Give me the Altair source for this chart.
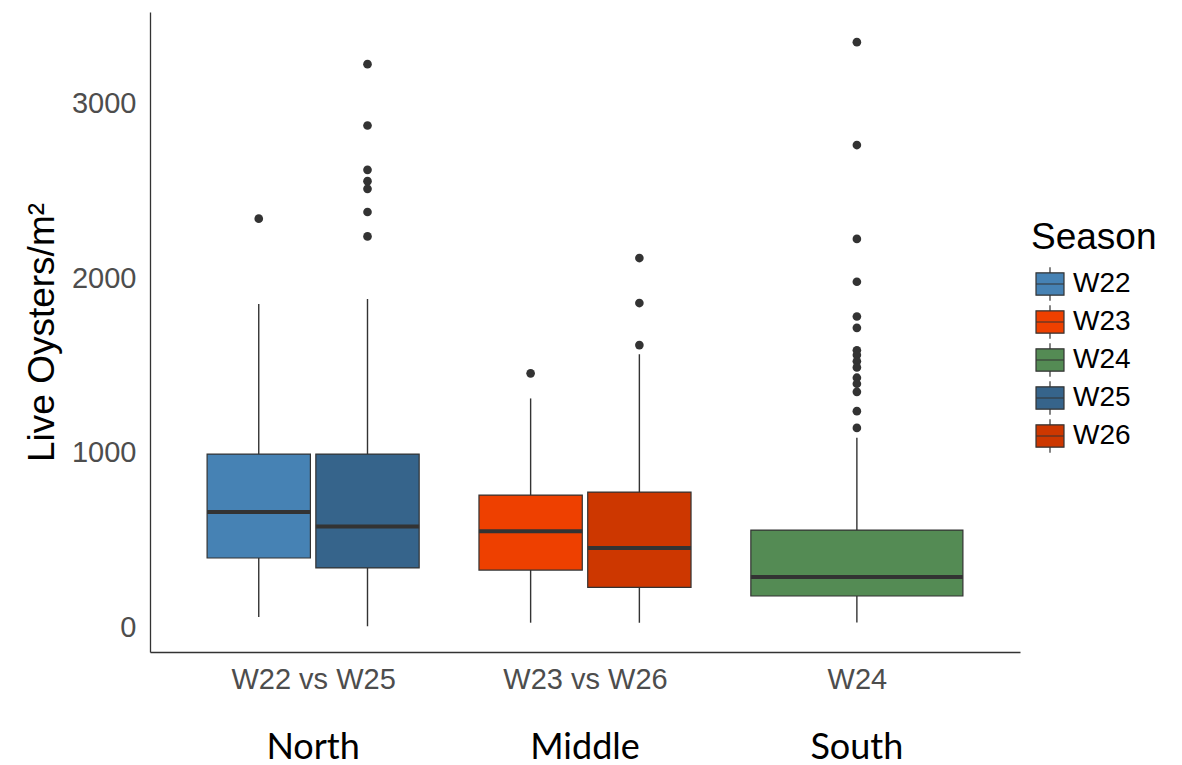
import altair as alt
import pandas as pd

groups = ["W22 vs W25", "W23 vs W26", "W24"]
regions = ["North", "Middle", "South"]
seasons = ["W22", "W23", "W24", "W25", "W26"]
season_group = ["W22 vs W25", "W23 vs W26", "W24", "W22 vs W25", "W23 vs W26"]
colors = ["#4682B4", "#EE4000", "#548B54", "#36648B", "#CD3700"]

lower = [57, 25, 26, 5, 25]
q1 = [396, 327, 178, 339, 228]
median = [660, 549, 287, 576, 453]
q3 = [992, 757, 556, 992, 774]
upper = [1852, 1311, 1086, 1881, 1565]

outliers = {
    "W22": [2342],
    "W23": [1455],
    "W24": [3354, 2764, 2226, 1980, 1781, 1716, 1587, 1560, 1524, 1489,
            1430, 1395, 1349, 1238, 1142],
    "W25": [3228, 2876, 2622, 2557, 2513, 2380, 2240],
    "W26": [2116, 1858, 1617],
}

# dodge layout (in x-scale units)
DODGE_W = 0.78
GAP = 0.02

rows = []
for i, s in enumerate(seasons):
    grp = season_group[i]
    g = groups.index(grp) + 1
    members = [t for t, gg in zip(seasons, season_group) if gg == grp]
    n = len(members)
    k = members.index(s)
    slot = (DODGE_W - GAP * (n - 1)) / n
    left = g - DODGE_W / 2 + k * (slot + GAP)
    rows.append(dict(season=s, left=left, right=left + slot,
                     center=left + slot / 2, lower=lower[i], q1=q1[i],
                     median=median[i], q3=q3[i], upper=upper[i]))
box_df = pd.DataFrame(rows)

out_rows = []
for r in rows:
    for v in outliers[r["season"]]:
        out_rows.append(dict(season=r["season"], center=r["center"], value=v))
out_df = pd.DataFrame(out_rows)

reg_df = pd.DataFrame({"pos": [1, 2, 3], "region": regions})

FONT = "Liberation Sans"
xscale = alt.Scale(domain=[0.4, 3.6], nice=False, zero=False)
yscale = alt.Scale(domain=[-143, 3527], nice=False, zero=False)

label_expr = "[" + ",".join("'" + g + "'" for g in groups) + "][datum.value - 1]"
xaxis = alt.Axis(values=[1, 2, 3], labelExpr=label_expr, title=None, grid=False,
                 ticks=False, labelFont=FONT, labelFontSize=29, labelColor="#4D4D4D",
                 labelPadding=13, domainColor="#333333", domainWidth=1.3)
yaxis = alt.Axis(values=[0, 1000, 2000, 3000], format="d", title="Live Oysters/m²",
                 grid=False, ticks=False, labelFont=FONT, labelFontSize=29,
                 labelColor="#4D4D4D", labelPadding=14, titleFont=FONT,
                 titleFontSize=37, titleFontWeight="normal", titleColor="black",
                 titlePadding=10, domainColor="#333333", domainWidth=1.3)

symbol_path = "M-1,-0.8H1V0.8H-1Z M-1,0H1 M0,-0.8V-1.2 M0,0.8V1.2"

legend = alt.Legend(title="Season", orient="none", legendX=881, legendY=208,
                    titleFont=FONT, titleFontSize=37, titleFontWeight="normal",
                    titleColor="black", titlePadding=12, labelFont=FONT,
                    labelFontSize=28, labelColor="black", labelOffset=8,
                    symbolType=symbol_path, symbolSize=784, symbolOffset=4,
                    symbolStrokeColor="#333333", symbolStrokeWidth=1.2,
                    rowPadding=-2)

whisk = alt.Chart(box_df).mark_rule(color="#333333", strokeWidth=1.4).encode(
    x=alt.X("center:Q", scale=xscale, axis=xaxis),
    y=alt.Y("lower:Q", scale=yscale, axis=yaxis),
    y2="upper:Q",
)
box = alt.Chart(box_df).mark_rect(stroke="#333333", strokeWidth=1.2).encode(
    x=alt.X("left:Q", scale=xscale, axis=xaxis),
    x2="right:Q",
    y=alt.Y("q1:Q", scale=yscale, axis=yaxis),
    y2="q3:Q",
    color=alt.Color("season:N", scale=alt.Scale(domain=seasons, range=colors),
                    legend=legend),
)
med = alt.Chart(box_df).mark_rule(color="#333333", strokeWidth=4).encode(
    x=alt.X("left:Q", scale=xscale, axis=xaxis),
    x2="right:Q",
    y=alt.Y("median:Q", scale=yscale, axis=yaxis),
)
pts = alt.Chart(out_df).mark_point(filled=True, size=75, color="#333333",
                                   opacity=1).encode(
    x=alt.X("center:Q", scale=xscale, axis=xaxis),
    y=alt.Y("value:Q", scale=yscale, axis=yaxis),
)
reg = alt.Chart(reg_df).mark_text(font="Lato", fontSize=36, color="black",
                                  baseline="middle", align="center").encode(
    x=alt.X("pos:Q", scale=xscale, axis=xaxis),
    y=alt.value(736),
    text="region:N",
)

chart = alt.layer(whisk, box, med, pts, reg).properties(
    width=870, height=640, background="white",
    padding={"left": 15, "top": 4, "right": 5, "bottom": 0},
).configure_view(stroke="transparent")

chart.save("out.html", embed_options={"renderer": "svg", "actions": False})
